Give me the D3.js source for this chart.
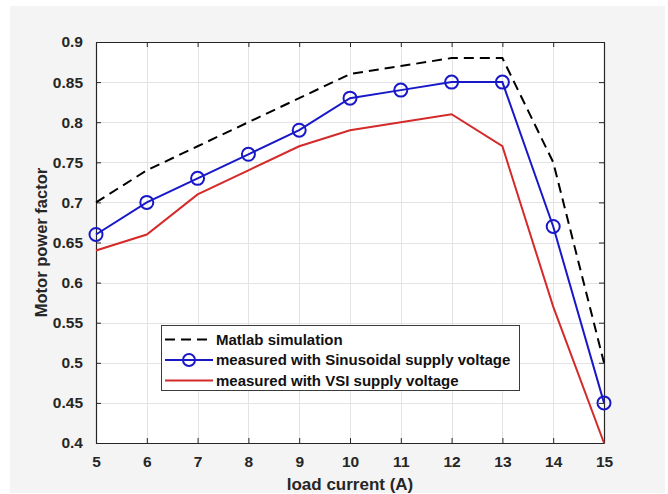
<!DOCTYPE html>
<html>
<head>
<meta charset="utf-8">
<script src="https://cdn.jsdelivr.net/npm/d3@7"></script>
<style>
  body { margin: 0; background: #fff; }
  svg { display: block; font-family: "Liberation Sans", Arial, sans-serif; }
</style>
</head>
<body>
<div id="chart"></div>
<script>
"use strict";

// load current (A)
const loadCurrent = [5, 6, 7, 8, 9, 10, 11, 12, 13, 14, 15];
// motor power factor
const matlabSim = [0.70, 0.74, 0.77, 0.80, 0.83, 0.86, 0.87, 0.88, 0.88, 0.75, 0.50];
const sinusoidal = [0.66, 0.70, 0.73, 0.76, 0.79, 0.83, 0.84, 0.85, 0.85, 0.67, 0.45];
const vsi = [0.64, 0.66, 0.71, 0.74, 0.77, 0.79, 0.80, 0.81, 0.77, 0.57, 0.40];

const xTicks = [5, 6, 7, 8, 9, 10, 11, 12, 13, 14, 15];
const yTicks = [0.4, 0.45, 0.5, 0.55, 0.6, 0.65, 0.7, 0.75, 0.8, 0.85, 0.9];

const seriesNames = ["Matlab simulation", "measured with Sinusoidal supply voltage", "measured with VSI supply voltage"];

const width = 668, height = 494;
const margin = { top: 42, right: 64, bottom: 51, left: 96 };
const textColor = "#262626";
const blue = "#1818c8";
const red = "#d42a2a";

const svg = d3.select("#chart").append("svg")
    .attr("width", width)
    .attr("height", height);

// matlab figure grey
svg.append("rect")
    .attr("x", 10).attr("y", 6)
    .attr("width", 655).attr("height", 487)
    .attr("fill", "#f4f4f4");

const x = d3.scaleLinear().domain([5, 15]).range([margin.left, width - margin.right]);
const y = d3.scaleLinear().domain([0.4, 0.9]).range([height - margin.bottom, margin.top]);

// plot area
svg.append("rect")
    .attr("x", x(5)).attr("y", y(0.9))
    .attr("width", x(15) - x(5)).attr("height", y(0.4) - y(0.9))
    .attr("fill", "#fff");

// grid
const grid = svg.append("g").attr("stroke", "#e3e3e3").attr("stroke-width", 1);
grid.selectAll("line.gx").data(xTicks).join("line")
    .attr("x1", d => Math.round(x(d)) + 0.5).attr("x2", d => Math.round(x(d)) + 0.5)
    .attr("y1", y(0.9)).attr("y2", y(0.4));
grid.selectAll("line.gy").data(yTicks).join("line")
    .attr("y1", d => Math.round(y(d)) + 0.5).attr("y2", d => Math.round(y(d)) + 0.5)
    .attr("x1", x(5)).attr("x2", x(15));

// axes, ticks pointing inward like matlab
const axisBottom = svg.append("g")
    .attr("transform", `translate(0,${y(0.4)})`)
    .call(d3.axisBottom(x).tickValues(xTicks).tickSizeInner(-5).tickSizeOuter(0).tickPadding(13).tickFormat(d3.format("")));
const axisLeft = svg.append("g")
    .attr("transform", `translate(${x(5)},0)`)
    .call(d3.axisLeft(y).tickValues(yTicks).tickSizeInner(-5).tickSizeOuter(0).tickPadding(13).tickFormat(d => String(+d.toFixed(2))));
const axisTop = svg.append("g")
    .attr("transform", `translate(0,${y(0.9)})`)
    .call(d3.axisTop(x).tickValues(xTicks).tickSizeInner(-5).tickSizeOuter(0).tickFormat(""));
const axisRight = svg.append("g")
    .attr("transform", `translate(${x(15)},0)`)
    .call(d3.axisRight(y).tickValues(yTicks).tickSizeInner(-5).tickSizeOuter(0).tickFormat(""));

[axisBottom, axisLeft, axisTop, axisRight].forEach(g => {
    g.select(".domain").attr("stroke", textColor).attr("stroke-width", 1.2);
    g.selectAll(".tick line").attr("stroke", textColor);
    g.selectAll(".tick text")
        .attr("fill", textColor)
        .style("font-size", "15.5px")
        .style("font-weight", "bold");
});

// axis labels
svg.append("text")
    .attr("x", (x(5) + x(15)) / 2)
    .attr("y", 490)
    .attr("text-anchor", "middle")
    .attr("fill", textColor)
    .style("font-size", "17px")
    .style("font-weight", "bold")
    .text("load current (A)");

svg.append("text")
    .attr("transform", `translate(47,${(y(0.4) + y(0.9)) / 2}) rotate(-90)`)
    .attr("text-anchor", "middle")
    .attr("fill", textColor)
    .style("font-size", "16.5px")
    .style("font-weight", "bold")
    .text("Motor power factor");

// lines
const line = d3.line().x((d, i) => x(loadCurrent[i])).y(d => y(d));

svg.append("path")
    .datum(matlabSim)
    .attr("d", line)
    .attr("fill", "none")
    .attr("stroke", "#000")
    .attr("stroke-width", 2)
    .attr("stroke-dasharray", "10,6");

svg.append("path")
    .datum(vsi)
    .attr("d", line)
    .attr("fill", "none")
    .attr("stroke", red)
    .attr("stroke-width", 2);

svg.append("path")
    .datum(sinusoidal)
    .attr("d", line)
    .attr("fill", "none")
    .attr("stroke", blue)
    .attr("stroke-width", 2);

svg.append("g").selectAll("circle")
    .data(sinusoidal)
    .join("circle")
    .attr("cx", (d, i) => x(loadCurrent[i]))
    .attr("cy", d => y(d))
    .attr("r", 6.5)
    .attr("fill", "none")
    .attr("stroke", blue)
    .attr("stroke-width", 2);

// legend
const legend = svg.append("g").attr("transform", "translate(161,325)");
legend.append("rect")
    .attr("x", 0.5).attr("y", 0.5)
    .attr("width", 358).attr("height", 65)
    .attr("fill", "#fff")
    .attr("stroke", "#3a3a3a")
    .attr("stroke-width", 1);

const legendStyles = [
    { stroke: "#000", dash: "10,6", marker: false },
    { stroke: blue, dash: null, marker: true },
    { stroke: red, dash: null, marker: false }
];
const rowY = [14.5, 35, 55.5];

const rows = legend.selectAll("g.row")
    .data(seriesNames)
    .join("g")
    .attr("transform", (d, i) => `translate(0,${rowY[i]})`);

rows.append("line")
    .attr("x1", 4).attr("x2", 52)
    .attr("stroke", (d, i) => legendStyles[i].stroke)
    .attr("stroke-width", 2)
    .attr("stroke-dasharray", (d, i) => legendStyles[i].dash);

rows.filter((d, i) => legendStyles[i].marker)
    .append("circle")
    .attr("cx", 28).attr("r", 6)
    .attr("fill", "none")
    .attr("stroke", blue)
    .attr("stroke-width", 2);

rows.append("text")
    .attr("x", 55)
    .attr("dy", "0.35em")
    .attr("fill", "#111")
    .style("font-size", "15px")
    .style("font-weight", "bold")
    .text(d => d);
</script>
</body>
</html>
